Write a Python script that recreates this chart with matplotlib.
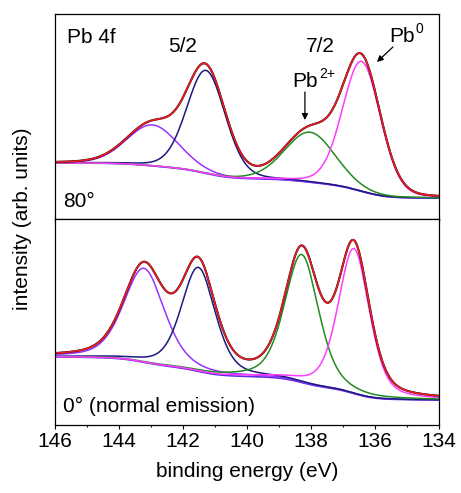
import matplotlib

matplotlib.use("Agg")

import matplotlib.pyplot as plt
import numpy as np

plt.rcParams["font.family"] = ["Liberation Sans", "DejaVu Sans"]

# peak order: Pb2+ 5/2, Pb0 5/2, Pb2+ 7/2, Pb0 7/2
peak_colors = ["#9933ff", "#1a1a80", "#228b22", "#ff3cff"]

# 80 deg (top panel)
top_centers = [142.95, 141.28, 138.03, 136.42]
top_heights = [41, 103, 50, 130]
top_fwhm = [1.9, 1.42, 1.85, 1.4]
top_lorentz = 0.15
top_bg_high = 56
top_bg_low = 21

# 0 deg, normal emission (bottom panel)
bot_centers = [143.22, 141.52, 138.29, 136.66]
bot_heights = [94, 104, 128, 145]
bot_fwhm = [1.5, 1.25, 1.25, 1.15]
bot_lorentz = 0.4
bot_bg_high = 68
bot_bg_low = 25

energy = np.linspace(134, 146, 1200)


def peak_shape(x, center, height, fwhm, eta):
    d = (x - center) / fwhm
    gauss = np.exp(-4 * np.log(2) * d ** 2)
    lorentz = 1 / (1 + 4 * d ** 2)
    return height * ((1 - eta) * gauss + eta * lorentz)


def shirley_background(peaks, low, high):
    cum = np.cumsum(np.sum(peaks, axis=0))
    return low + (high - low) * cum / cum[-1]


def draw_panel(ax, centers, heights, fwhm, eta, bg_low, bg_high):
    peaks = [peak_shape(energy, c, h, w, eta) for c, h, w in zip(centers, heights, fwhm)]
    bg = shirley_background(peaks, bg_low, bg_high)
    envelope = bg + np.sum(peaks, axis=0)

    ax.plot(energy, bg, color="#5b2be0", lw=1.2)
    for peak, color in zip(peaks, peak_colors):
        ax.plot(energy, bg + peak, color=color, lw=1.1)
    ax.plot(energy, envelope, color="black", lw=1.5)
    ax.plot(energy, envelope, color="#ee1c24", lw=1.2)

    ax.set_xlim(146, 134)
    ax.set_yticks([])
    ax.set_xticks(np.arange(146, 133, -2))
    ax.set_xticks(np.arange(145, 134, -2), minor=True)
    ax.tick_params(axis="x", which="major", direction="out", length=3, width=0.8)
    ax.tick_params(axis="x", which="minor", direction="out", length=1.6, width=0.8)
    for spine in ax.spines.values():
        spine.set_linewidth(0.9)


fig = plt.figure(figsize=(4.61, 4.93), dpi=100)
ax_top = fig.add_axes([0.1193, 0.5558, 0.833, 0.4158])
ax_bot = fig.add_axes([0.1193, 0.1379, 0.833, 0.4179])

draw_panel(ax_top, top_centers, top_heights, top_fwhm, top_lorentz, top_bg_low, top_bg_high)
draw_panel(ax_bot, bot_centers, bot_heights, bot_fwhm, bot_lorentz, bot_bg_low, bot_bg_high)

ax_top.set_ylim(0, 205)
ax_bot.set_ylim(0, 206)
ax_top.tick_params(axis="x", labelbottom=False)
ax_bot.tick_params(axis="x", labelsize=15, pad=2)

text_size = 15
sup_size = 10
ax_top.text(145.62, 176, "Pb 4f", fontsize=text_size, va="baseline")
ax_top.text(142.0, 167, "5/2", fontsize=text_size, ha="center", va="baseline")
ax_top.text(137.72, 167, "7/2", fontsize=text_size, ha="center", va="baseline")
ax_top.text(135.55, 177, "Pb", fontsize=text_size, va="baseline")
ax_top.text(134.72, 186, "0", fontsize=sup_size, va="baseline")
ax_top.text(138.58, 132, "Pb", fontsize=text_size, va="baseline")
ax_top.text(137.75, 141, "2+", fontsize=sup_size, va="baseline")
ax_top.annotate("", xy=(135.94, 157), xytext=(135.44, 172),
                arrowprops=dict(arrowstyle="-|>", color="black", lw=0.9,
                                mutation_scale=9, shrinkA=0, shrinkB=0))
ax_top.annotate("", xy=(138.19, 99), xytext=(138.19, 127),
                arrowprops=dict(arrowstyle="-|>", color="black", lw=0.9,
                                mutation_scale=9, shrinkA=0, shrinkB=0))
ax_top.text(145.75, 12, "80°", fontsize=text_size, va="baseline")
ax_bot.text(145.75, 13, "0° (normal emission)", fontsize=text_size, va="baseline")

ax_bot.set_xlabel("binding energy (eV)", fontsize=15, labelpad=8)
fig.text(0.048, 0.556, "intensity (arb. units)", fontsize=15, rotation=90,
         ha="center", va="center")

fig.savefig("out.png", dpi=100)
